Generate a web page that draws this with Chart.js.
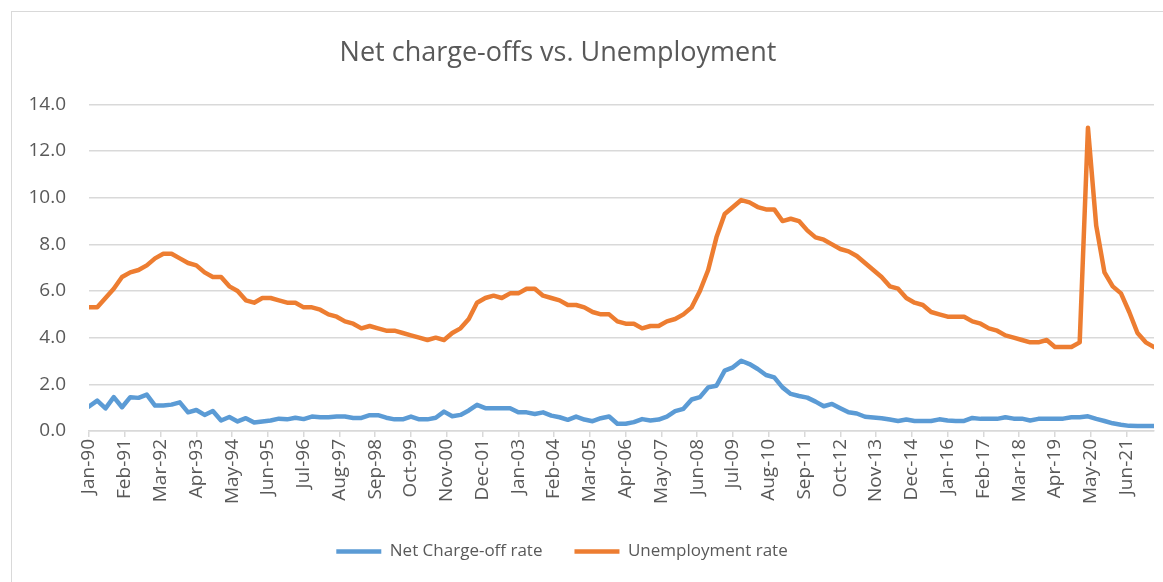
<!DOCTYPE html>
<html>
<head>
<meta charset="utf-8">
<title>Net charge-offs vs. Unemployment</title>
<script src="https://cdn.jsdelivr.net/npm/chart.js@4.4.1/dist/chart.umd.min.js"></script>
<style>
    body { margin: 0; background: #ffffff; overflow: hidden; }
    #wrap { position: relative; width: 1163px; height: 582px; }
    #wrap canvas { display: block; }
    #frame { position: absolute; left: 11px; top: 11px; width: 1200px; height: 600px;
             border: 1px solid #d9d9d9; pointer-events: none; }
</style>
</head>
<body>
<div id="wrap">
    <canvas id="charge_off_chart" width="1163" height="582"></canvas>
    <div id="frame"></div>
</div>
<script>
// quarterly observations, first one is Jan-90
var monthNames = ["Jan", "Feb", "Mar", "Apr", "May", "Jun",
                  "Jul", "Aug", "Sep", "Oct", "Nov", "Dec"];
var startYear = 1990;
var monthsPerPoint = 3;
var tickStepMonths = 13; // axis labels every 13 months, like the sheet

var chargeOffRate = [
    1.05, 1.30, 0.97, 1.45, 1.02, 1.45, 1.42, 1.56, 1.09, 1.09,
    1.13, 1.23, 0.80, 0.90, 0.69, 0.86, 0.45, 0.60, 0.41, 0.55,
    0.36, 0.41, 0.45, 0.53, 0.50, 0.57, 0.51, 0.62, 0.59, 0.59,
    0.62, 0.62, 0.56, 0.56, 0.68, 0.68, 0.57, 0.50, 0.50, 0.62,
    0.50, 0.50, 0.57, 0.83, 0.63, 0.69, 0.88, 1.12, 0.98, 0.98,
    0.98, 0.98, 0.80, 0.80, 0.73, 0.80, 0.66, 0.59, 0.48, 0.62,
    0.49, 0.42, 0.55, 0.62, 0.31, 0.31, 0.38, 0.51, 0.45, 0.49,
    0.62, 0.85, 0.95, 1.35, 1.45, 1.87, 1.94, 2.59, 2.73, 3.01,
    2.87, 2.66, 2.40, 2.30, 1.87, 1.59, 1.50, 1.43, 1.26, 1.06,
    1.16, 0.98, 0.80, 0.75, 0.61, 0.58, 0.55, 0.49, 0.43, 0.49,
    0.43, 0.43, 0.43, 0.50, 0.45, 0.43, 0.43, 0.56, 0.52, 0.52,
    0.52, 0.59, 0.53, 0.53, 0.45, 0.52, 0.53, 0.53, 0.53, 0.59,
    0.59, 0.63, 0.52, 0.43, 0.33, 0.27, 0.22, 0.21, 0.21, 0.21
];

var unemploymentRate = [
    5.3, 5.3, 5.7, 6.1, 6.6, 6.8, 6.9, 7.1, 7.4, 7.6,
    7.6, 7.4, 7.2, 7.1, 6.8, 6.6, 6.6, 6.2, 6.0, 5.6,
    5.5, 5.7, 5.7, 5.6, 5.5, 5.5, 5.3, 5.3, 5.2, 5.0,
    4.9, 4.7, 4.6, 4.4, 4.5, 4.4, 4.3, 4.3, 4.2, 4.1,
    4.0, 3.9, 4.0, 3.9, 4.2, 4.4, 4.8, 5.5, 5.7, 5.8,
    5.7, 5.9, 5.9, 6.1, 6.1, 5.8, 5.7, 5.6, 5.4, 5.4,
    5.3, 5.1, 5.0, 5.0, 4.7, 4.6, 4.6, 4.4, 4.5, 4.5,
    4.7, 4.8, 5.0, 5.3, 6.0, 6.9, 8.3, 9.3, 9.6, 9.9,
    9.8, 9.6, 9.5, 9.5, 9.0, 9.1, 9.0, 8.6, 8.3, 8.2,
    8.0, 7.8, 7.7, 7.5, 7.2, 6.9, 6.6, 6.2, 6.1, 5.7,
    5.5, 5.4, 5.1, 5.0, 4.9, 4.9, 4.9, 4.7, 4.6, 4.4,
    4.3, 4.1, 4.0, 3.9, 3.8, 3.8, 3.9, 3.6, 3.6, 3.6,
    3.8, 13.0, 8.8, 6.8, 6.2, 5.9, 5.1, 4.2, 3.8, 3.6
];

var yTicks = [0, 2, 4, 6, 8, 10, 12, 14];

var textColor = "#595959";
var gridColor = "#d9d9d9";
var fontName = "'Open Sans', 'Liberation Sans', sans-serif";

function to_points(values){
    var pts = [];
    for (var i = 0; i < values.length; i++) {
        pts.push({x: i * monthsPerPoint, y: values[i]});
    }
    return pts;
}

function month_label(m){
    var year = startYear + Math.floor(m / 12);
    return monthNames[m % 12] + "-" + String(year % 100).padStart(2, "0");
}

// nudge title and legend so they sit where the sheet put them
var shiftBoxes = {
    id: "shiftBoxes",
    afterLayout: function(chart){
        var t = chart.titleBlock;
        t.left = 0; t.right = 1116; t.width = 1116;
        var lg = chart.legend;
        lg.left = 12; lg.right = 1112; lg.width = 1100;
    }
};

function make_line_chart(){
    var lastMonth = (chargeOffRate.length - 1) * monthsPerPoint;

    new Chart(document.getElementById("charge_off_chart"), {
        type: "line",
        data: {
            datasets: [{
                label: "Net Charge-off rate",
                data: to_points(chargeOffRate),
                borderColor: "#5b9bd5",
                backgroundColor: "#5b9bd5",
                borderWidth: 4.5,
                pointRadius: 0,
                tension: 0,
                borderJoinStyle: "round",
                borderCapStyle: "round",
                fill: false
            }, {
                label: "Unemployment rate",
                data: to_points(unemploymentRate),
                borderColor: "#ed7d31",
                backgroundColor: "#ed7d31",
                borderWidth: 4.5,
                pointRadius: 0,
                tension: 0,
                borderJoinStyle: "round",
                borderCapStyle: "round",
                fill: false
            }]
        },
        options: {
            responsive: false,
            animation: false,
            layout: {
                padding: {left: 28, right: 9, top: 0, bottom: 12}
            },
            plugins: {
                title: {
                    display: true,
                    text: "Net charge-offs vs. Unemployment",
                    color: textColor,
                    font: {family: fontName, size: 27, weight: "normal"},
                    padding: {top: 37, bottom: 35}
                },
                legend: {
                    display: true,
                    position: "bottom",
                    labels: {
                        color: textColor,
                        font: {family: fontName, size: 17},
                        usePointStyle: true,
                        pointStyle: "line",
                        pointStyleWidth: 45,
                        padding: 32
                    }
                },
                tooltip: {enabled: false}
            },
            scales: {
                x: {
                    type: "linear",
                    bounds: "data",
                    min: 0,
                    max: lastMonth,
                    grid: {
                        drawOnChartArea: false,
                        drawTicks: true,
                        tickLength: 6,
                        color: gridColor,
                        lineWidth: 1.5
                    },
                    border: {display: true, color: gridColor, width: 1.5},
                    ticks: {
                        stepSize: tickStepMonths,
                        autoSkip: false,
                        minRotation: 90,
                        maxRotation: 90,
                        padding: 2,
                        color: textColor,
                        font: {family: fontName, size: 19},
                        callback: function(value){ return month_label(value); }
                    },
                    afterBuildTicks: function(scale){
                        // only the 13-month steps, drop the end-of-range tick
                        scale.ticks = scale.ticks.filter(function(t){
                            return t.value % tickStepMonths === 0;
                        });
                    },
                    afterFit: function(scale){ scale.height = 80; }
                },
                y: {
                    min: yTicks[0],
                    max: yTicks[yTicks.length - 1],
                    grid: {color: gridColor, lineWidth: 1.5, drawTicks: false},
                    border: {display: false},
                    ticks: {
                        stepSize: 2,
                        padding: 23,
                        color: textColor,
                        font: {family: fontName, size: 19},
                        callback: function(value){ return value.toFixed(1); }
                    },
                    afterFit: function(scale){ scale.width = 61; }
                }
            }
        },
        plugins: [shiftBoxes]
    });
}

make_line_chart();
</script>
</body>
</html>
